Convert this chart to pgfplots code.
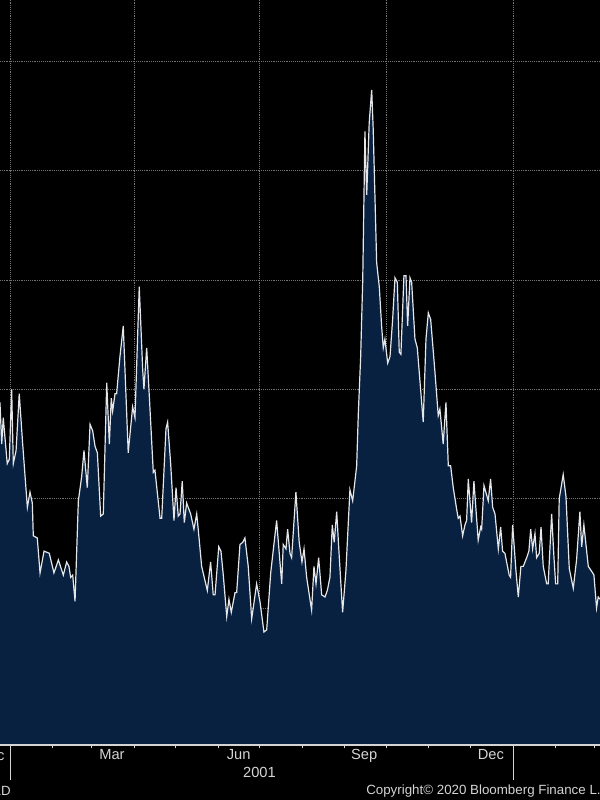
\documentclass[border=0pt]{standalone}
\usepackage{fontspec}
\setmainfont{Liberation Sans}
\usepackage{pgfplots}
\usepackage{pgfplotstable}
\pgfplotsset{compat=1.18}

\definecolor{bbFill}{RGB}{8,33,64}
\definecolor{bbLine}{RGB}{228,230,234}
\definecolor{bbGrid}{RGB}{115,115,115}
\definecolor{bbText}{RGB}{212,212,212}

% day 0 = 1 Jan 2001, value = index level
\pgfplotstableread{
day vix
-7.3 29.4
-6.0 27.5
-4.9 28.7
-2.0 26.6
-0.5 26.8
1.2 30.0
2.4 26.6
4.4 27.2
6.7 29.8
9.2 27.5
12.6 24.6
14.5 25.3
16.2 24.8
16.9 23.3
19.8 23.2
21.8 21.6
24.7 22.6
28.5 22.5
31.9 21.6
35.1 22.2
38.7 21.5
41.1 22.1
42.8 21.9
44.0 21.4
45.5 21.5
47.2 20.3
49.6 24.9
52.0 26.0
53.7 27.2
56.1 25.5
58.1 28.4
60.0 28.1
61.7 27.4
63.4 27.1
65.8 24.2
67.7 24.3
70.2 30.3
72.1 27.5
73.5 29.6
74.5 29.0
76.2 29.8
77.4 29.8
79.8 31.5
82.2 32.9
85.8 27.1
89.0 29.2
90.7 28.7
93.8 34.7
96.3 30.9
97.2 30.0
99.2 31.9
101.1 29.7
104.0 26.2
105.2 26.3
108.9 24.1
110.1 24.1
113.2 28.2
114.4 28.5
116.6 26.6
119.0 24.0
120.5 25.5
122.1 24.2
123.4 24.3
125.0 25.8
126.5 23.9
128.2 24.8
131.1 24.3
133.5 23.6
135.5 24.3
136.6 23.6
139.1 21.9
143.2 20.8
145.6 22.1
147.5 20.6
148.8 20.6
151.5 22.8
153.1 22.6
154.8 21.5
157.3 19.6
158.9 20.4
160.6 19.8
163.3 20.7
164.5 20.7
166.9 22.9
168.9 23.0
170.5 23.2
172.9 21.9
175.4 19.5
179.0 21.1
181.4 20.3
184.3 18.9
186.3 19.0
189.2 21.6
193.5 24.0
197.2 21.1
198.3 22.9
200.3 22.7
201.5 23.6
203.2 22.5
204.4 22.3
207.5 25.3
209.9 23.0
211.9 22.1
213.4 22.7
215.3 21.4
218.9 19.9
220.6 21.9
222.1 21.1
224.0 22.3
226.2 20.6
228.6 20.5
230.3 20.8
232.2 21.4
233.9 23.8
235.3 23.0
237.1 24.4
239.0 22.3
241.4 19.8
243.8 21.7
246.7 25.4
248.7 24.9
251.6 26.5
252.8 28.9
254.5 31.5
256.0 35.0
257.6 41.8
258.9 38.9
260.7 42.2
262.5 43.7
263.6 41.9
266.1 35.8
268.0 34.7
269.7 32.9
270.9 31.9
272.1 32.3
274.1 31.2
275.8 31.5
277.7 33.2
279.4 35.1
281.1 34.9
282.5 31.7
283.7 31.6
285.9 35.2
287.4 35.2
288.6 32.9
290.3 35.1
291.5 34.9
293.9 32.3
295.6 31.9
299.9 28.5
301.9 32.3
303.6 33.5
305.3 33.2
308.4 30.8
310.8 28.8
312.0 29.1
314.4 27.5
316.4 29.4
318.1 26.5
319.8 26.5
321.7 25.5
324.2 24.5
325.3 24.1
326.6 24.2
328.5 23.3
330.2 23.8
331.4 24.0
332.6 25.9
335.0 23.9
336.7 25.8
339.8 23.1
341.6 23.7
342.3 23.6
344.0 25.6
347.1 24.9
348.8 25.9
350.3 24.6
352.0 24.3
354.4 22.7
356.1 23.7
357.5 22.6
359.2 22.5
362.3 21.5
363.3 21.4
364.8 23.8
367.2 21.7
368.9 20.5
370.8 21.9
372.5 21.9
375.0 22.3
376.6 22.6
377.9 23.6
379.3 22.7
381.0 23.4
382.2 22.3
384.1 22.5
385.4 23.7
387.0 21.9
389.5 21.1
390.6 21.1
393.1 24.3
394.8 22.3
396.0 21.1
397.5 21.1
398.6 25.0
401.5 26.1
403.5 25.1
405.9 21.8
408.8 20.9
411.2 22.2
413.6 24.4
414.9 22.8
416.5 23.8
419.7 21.9
422.9 21.6
423.8 21.5
425.7 20.0
426.9 20.5
428.2 20.4
}\vixdata

\begin{document}
\begin{tikzpicture}
\useasboundingbox (0,0) rectangle (450pt,600pt);
\fill[black] (0,0) rectangle (450pt,600pt);

\begin{axis}[
    at={(0pt,41.25pt)}, anchor=south west,
    scale only axis, width=450pt, height=558.75pt,
    xmin=-7.26, xmax=428.2, ymin=13.73, ymax=47.81,
    axis line style={draw=none},
    xtick={0,90,181,273,365}, xticklabels={},
    minor xtick={-31,31,59,120,151,212,243,304,334,396,424},
    xtick pos=left, tick align=outside,
    major tick length=2.5pt, minor tick length=2.5pt,
    tick style={bbText, line width=0.6pt},
    ytick={15,20,...,45}, yticklabels={}, ytick style={draw=none},
    xmajorgrids=true, ymajorgrids=true,
    major grid style={bbGrid, densely dotted, line width=0.6pt},
    extra x ticks={74,166,257,349},
    extra x tick labels={Mar,Jun,Sep,Dec},
    extra x tick style={grid=none, major tick length=0pt,
        tick label style={font=\fontsize{11}{13}\selectfont, text=bbText}},
]
\addplot[draw=none, fill=bbFill] table[x=day, y=vix] {\vixdata} \closedcycle;
\addplot[bbLine, line width=0.9pt] table[x=day, y=vix] {\vixdata};
\end{axis}

% axis line, year separators and footer text
\draw[bbText, line width=0.8pt] (0pt,41.25pt) -- (450pt,41.25pt);
\draw[bbText, line width=0.6pt] (7.5pt,41.25pt) -- (7.5pt,15pt);
\draw[bbText, line width=0.6pt] (384.75pt,41.25pt) -- (384.75pt,15pt);
\node[anchor=north east, inner sep=0pt, text=bbText, font=\fontsize{11}{13}\selectfont] at (3.5pt,37.6pt) {Dec};
\node[text=bbText, font=\fontsize{11}{13}\selectfont] at (194.6pt,20.6pt) {2001};
\node[anchor=east, inner sep=0pt, text=bbText, font=\fontsize{10}{12}\selectfont] at (8.3pt,6.75pt) {1D};
\node[anchor=west, inner sep=0pt, text=bbText, font=\fontsize{10}{12}\selectfont] at (274.5pt,6.75pt) {Copyright© 2020 Bloomberg Finance L.P.};
\end{tikzpicture}
\end{document}
